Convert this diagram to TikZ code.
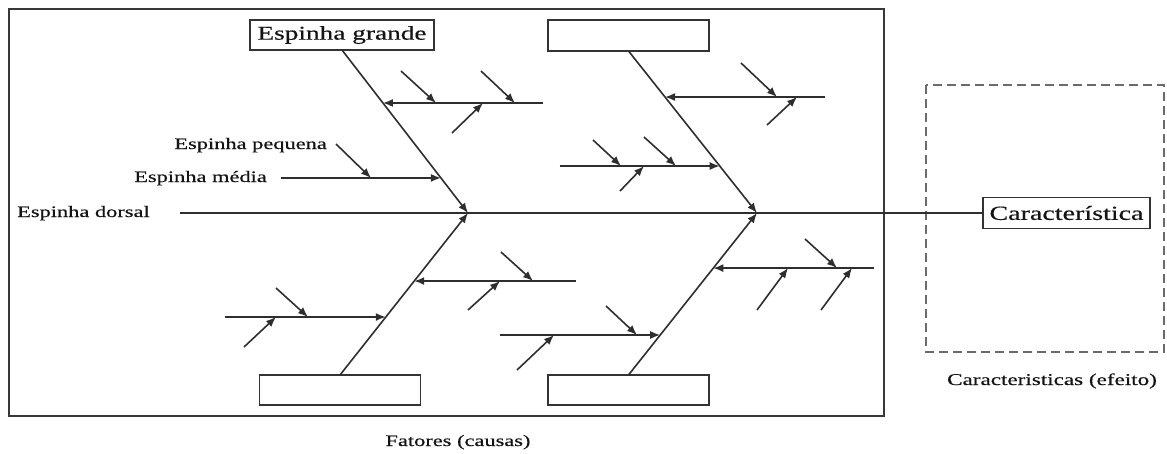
\documentclass[tikz,border=0pt]{standalone}
\usepackage{fontspec}
\setmainfont{Liberation Serif}
\usepackage{graphicx}
\usetikzlibrary{arrows.meta,calc}

% wide serif lettering: size in pt, text
\newcommand\wtxt[2]{\scalebox{1.4}[1]{\fontsize{#1}{#1}\selectfont\addfontfeatures{FakeBold=0.4}#2}}
% a small bone: name, origin x, origin y, tip x, tip y
\newcommand\twig[5]{%
  \coordinate (#1o) at (#2,#3);
  \coordinate (#1t) at (#4,#5);
  \draw[twig] (#1o) -- (#1t);}

\begin{document}
\begin{tikzpicture}[x=1pt,y=-1pt,
  ink/.style={draw=black!82, line width=1.6pt},
  bone/.style={ink, -{Latex[length=10pt,width=8pt]}},
  twig/.style={bone},
  lbl/.style={inner sep=0pt, text=black!92},
  catbox/.style={draw=black!80, line width=1.6pt, minimum width=161pt,
    minimum height=31pt, inner sep=0pt, outer sep=0pt, text=black!92},
  frame/.style={draw=black!78, line width=1.8pt},
  effect/.style={draw=black!58, line width=2.3pt, dash pattern=on 9pt off 5pt},
]
\useasboundingbox (0,0) rectangle (1167,453);

% outer frames
\draw[frame] (9,9) rectangle (884,416);
\draw[effect] (926,85) rectangle (1164,352);

% category boxes and effect box
\node[catbox, minimum width=184pt, minimum height=30pt] (gTL) at (342,35) {\wtxt{19.5}{Espinha grande}};
\node[catbox] (gTR) at (628.5,35.5) {};
\node[catbox, minimum height=30pt] (gBL) at (340,390) {};
\node[catbox, minimum height=30pt] (gBR) at (628.5,390) {};
\node[catbox, minimum width=167pt] (car) at (1066.5,213) {\wtxt{20}{Característica}};

% backbone
\coordinate (dorsalStart) at (180,213);
\coordinate (jL) at (468,213);
\coordinate (jR) at (757,213);
\draw[ink] (dorsalStart) -- (car.west);

% large bones
\draw[bone] (gTL.south) -- (jL);
\draw[bone] (gBL.north) -- (jL);
\draw[bone] (gTR.south) -- (jR);
\draw[bone] (gBR.north) -- (jR);

% medium bones
\coordinate (tl1) at ($(gTL.south)!0.325!(jL)$);
\coordinate (tl1f) at ($(tl1)+(160,0)$);
\draw[bone] (tl1f) -- (tl1);
\coordinate (tl2) at ($(gTL.south)!0.785!(jL)$);
\coordinate (tl2f) at ($(tl2)+(-160,0)$);
\draw[bone] (tl2f) -- (tl2);

\coordinate (tr1) at ($(gTR.south)!0.284!(jR)$);
\coordinate (tr1f) at ($(tr1)+(160,0)$);
\draw[bone] (tr1f) -- (tr1);
\coordinate (tr2) at ($(gTR.south)!0.71!(jR)$);
\coordinate (tr2f) at ($(tr2)+(-160,0)$);
\draw[bone] (tr2f) -- (tr2);

\coordinate (bl1) at ($(gBL.north)!0.58!(jL)$);
\coordinate (bl1f) at ($(bl1)+(162,0)$);
\draw[bone] (bl1f) -- (bl1);
\coordinate (bl2) at ($(gBL.north)!0.358!(jL)$);
\coordinate (bl2f) at ($(bl2)+(-161,0)$);
\draw[bone] (bl2f) -- (bl2);

\coordinate (br1) at ($(gBR.north)!0.66!(jR)$);
\coordinate (br1f) at ($(br1)+(161,0)$);
\draw[bone] (br1f) -- (br1);
\coordinate (br2) at ($(gBR.north)!0.247!(jR)$);
\coordinate (br2f) at ($(br2)+(-160,0)$);
\draw[bone] (br2f) -- (br2);

% small bones
\twig{a1}{401}{71}{436}{103}
\twig{a2}{481}{71}{515}{103}
\twig{a3}{452}{133}{483}{103}
\twig{b1}{336}{144}{371}{178}
\twig{c1}{741}{63}{777}{97}
\twig{c2}{767}{125}{797}{97}
\twig{d1}{593}{140}{621}{166}
\twig{d2}{644}{137}{676}{166}
\twig{d3}{620}{191}{644}{166}
\twig{e1}{501}{252}{533}{281}
\twig{e2}{468}{310}{500}{281}
\twig{f1}{276}{288}{308}{317}
\twig{f2}{244}{347}{276}{317}
\twig{g1}{805}{239}{837}{268}
\twig{g2}{757}{310}{788}{268}
\twig{g3}{821}{310}{852}{268}
\twig{h1}{606}{306}{637}{335}
\twig{h2}{517}{370}{554}{335}

% labels
\node[lbl, anchor=base west] (dorsal) at (17,217) {\wtxt{16}{Espinha dorsal}};
\node[lbl, anchor=base east] (pequena) at (327,149) {\wtxt{16}{Espinha pequena}};
\node[lbl, anchor=base east] (media) at (267,182) {\wtxt{16}{Espinha média}};
\node[lbl, anchor=base] (fatores) at (458,446) {\wtxt{16}{Fatores (causas)}};
\node[lbl, anchor=base] (efeito) at (1052,385) {\wtxt{16.5}{Caracteristicas (efeito)}};
\end{tikzpicture}
\end{document}
